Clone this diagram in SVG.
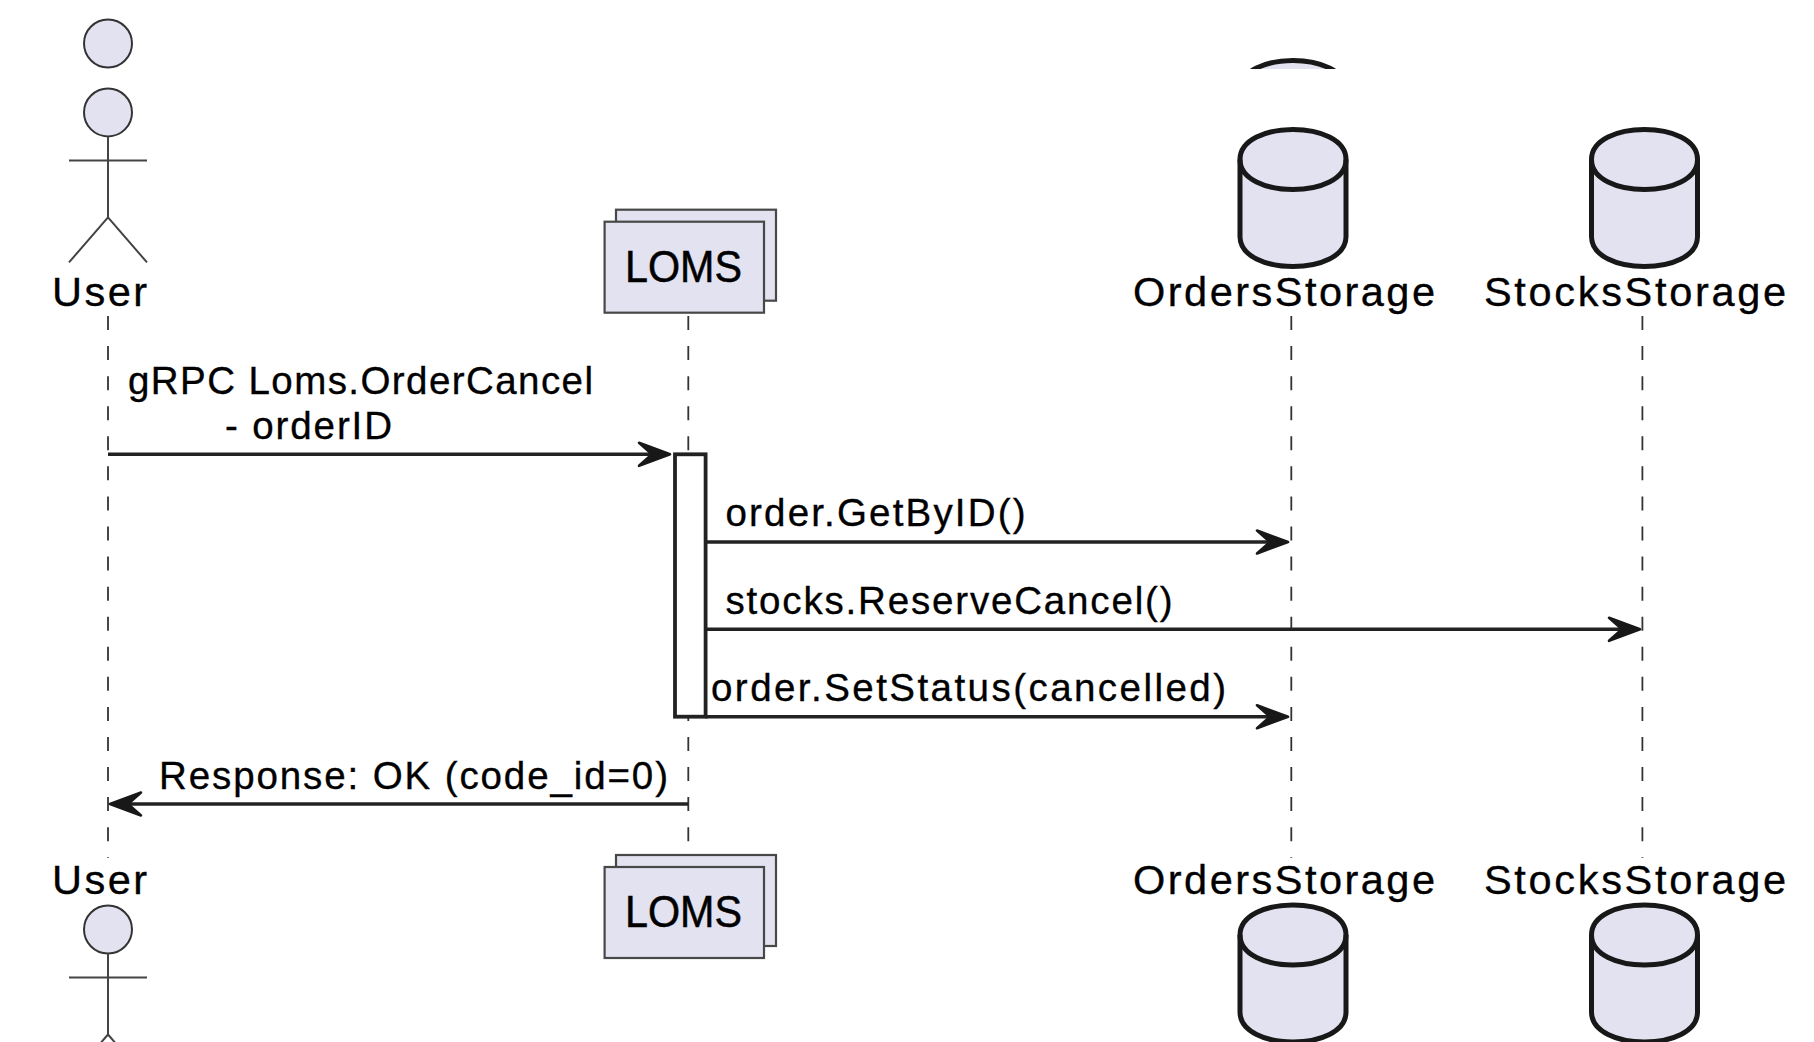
<svg xmlns="http://www.w3.org/2000/svg" xmlns:xlink="http://www.w3.org/1999/xlink" width="1814" height="1042" viewBox="0 0 1814 1042">
<style>
text{font-family:"Liberation Sans",Arial,sans-serif;fill:#000;stroke:#000;stroke-width:.35}
.name{font-size:41.5px}
.big{font-size:44px;stroke-width:.5}
.msg{font-size:38.5px}
.box{fill:#E2E2F0;stroke:#484848;stroke-width:2.2}
.head{fill:#E2E2F0;stroke:#333;stroke-width:2}
.limb{fill:none;stroke:#444;stroke-width:2}
.cyl{fill:#E2E2F0;stroke:#181818;stroke-width:5;stroke-linejoin:round}
.top{fill:none;stroke:#181818;stroke-width:5}
.life{stroke:#333;stroke-width:1.8;stroke-dasharray:14 16.07;fill:none}
.arrow{stroke:#222;stroke-width:3.4;fill:none;marker-end:url(#head)}
.act{fill:#fff;stroke:#222;stroke-width:3.8}
</style>
<defs>
<marker id="head" markerUnits="userSpaceOnUse" markerWidth="38" markerHeight="32" refX="16" refY="16" orient="auto">
<path d="M2 4.5L33 16L2 27.5L15 16Z" fill="#181818" stroke="#181818" stroke-width="2.6" stroke-linejoin="round"/>
</marker>
<clipPath id="clipTop"><rect x="1200" y="0" width="200" height="69"/></clipPath>
<g id="actor">
<circle class="head" cx="108" cy="0" r="24"/>
<path class="limb" d="M108 24V105M69 48H147M108 105L69 150M108 105L147 150"/>
</g>
<g id="stack">
<rect class="box" x="616" y="0" width="160" height="91"/>
<rect class="box" x="604.6" y="12" width="159.4" height="91"/>
</g>
<g id="cylinder">
<path class="cyl" d="M-53 30C-53 -10 53 -10 53 30V107C53 147 -53 147 -53 107Z"/>
<path class="top" d="M-53 30C-53 70 53 70 53 30"/>
</g>
</defs>
<rect width="1814" height="1042" fill="#fff"/>
<g id="lifelines">
<path class="life" d="M108 316V858M688.3 316V858M1291.3 316V858M1642.4 316V858"/>
</g>
<g id="top-fragment" clip-path="url(#clipTop)">
<use xlink:href="#cylinder" href="#cylinder" x="1293" y="60.5"/>
</g>
<g id="user-top">
<circle class="head" cx="108" cy="43.5" r="24"/>
<use xlink:href="#actor" href="#actor" y="112.4"/>
<text class="name" x="52" y="305.5" textLength="95" lengthAdjust="spacing">User</text>
</g>
<g id="loms-top">
<use xlink:href="#stack" href="#stack" y="209.7"/>
<text class="big" x="625" y="282" textLength="117" lengthAdjust="spacingAndGlyphs">LOMS</text>
</g>
<g id="orders-top">
<use xlink:href="#cylinder" href="#cylinder" x="1293" y="129.5"/>
<text class="name" x="1133" y="305.5" textLength="302" lengthAdjust="spacing">OrdersStorage</text>
</g>
<g id="stocks-top">
<use xlink:href="#cylinder" href="#cylinder" x="1644.5" y="129.5"/>
<text class="name" x="1484" y="305.5" textLength="302" lengthAdjust="spacing">StocksStorage</text>
</g>
<g id="user-bottom">
<text class="name" x="52" y="893.8" textLength="95" lengthAdjust="spacing">User</text>
<use xlink:href="#actor" href="#actor" y="929.5"/>
</g>
<g id="loms-bottom">
<use xlink:href="#stack" href="#stack" y="855"/>
<text class="big" x="625" y="927" textLength="117" lengthAdjust="spacingAndGlyphs">LOMS</text>
</g>
<g id="orders-bottom">
<text class="name" x="1133" y="893.8" textLength="302" lengthAdjust="spacing">OrdersStorage</text>
<use xlink:href="#cylinder" href="#cylinder" x="1293" y="905"/>
</g>
<g id="stocks-bottom">
<text class="name" x="1484" y="893.8" textLength="302" lengthAdjust="spacing">StocksStorage</text>
<use xlink:href="#cylinder" href="#cylinder" x="1644.5" y="905"/>
</g>
<g id="activation">
<rect class="act" x="675" y="454.3" width="30.6" height="262.4"/>
</g>
<g id="connectors">
<line class="arrow" x1="108" y1="454.3" x2="653" y2="454.3"/>
<line class="arrow" x1="705.6" y1="542" x2="1271" y2="542"/>
<line class="arrow" x1="705.6" y1="629.3" x2="1623" y2="629.3"/>
<line class="arrow" x1="705.6" y1="716.7" x2="1271" y2="716.7"/>
<line class="arrow" x1="688" y1="804" x2="127" y2="804"/>
</g>
<g id="labels">
<text class="msg" x="128" y="394.3" textLength="465" lengthAdjust="spacing">gRPC Loms.OrderCancel</text>
<text class="msg" x="225" y="438.6" textLength="167" lengthAdjust="spacing">- orderID</text>
<text class="msg" x="725.5" y="526.3" textLength="300" lengthAdjust="spacing">order.GetByID()</text>
<text class="msg" x="725.5" y="613.6" textLength="447" lengthAdjust="spacing">stocks.ReserveCancel()</text>
<text class="msg" x="711" y="701.3" textLength="515" lengthAdjust="spacing">order.SetStatus(cancelled)</text>
<text class="msg" x="159" y="788.6" textLength="509" lengthAdjust="spacing">Response: OK (code_id=0)</text>
</g>
</svg>
